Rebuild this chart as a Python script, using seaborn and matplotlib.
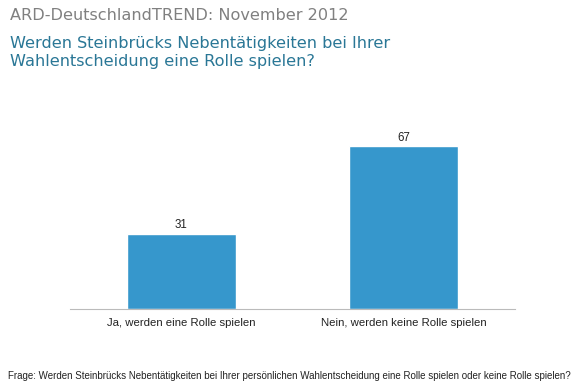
import matplotlib
matplotlib.use("Agg")
import matplotlib.pyplot as plt
import seaborn as sns
import pandas as pd

# Data
categories = ["Ja, werden eine Rolle spielen", "Nein, werden keine Rolle spielen"]
values = [31, 67]

df = pd.DataFrame({"antwort": categories, "prozent": values})

sns.set_style("white")
plt.rcParams["font.family"] = ["Liberation Sans", "DejaVu Sans"]

fig = plt.figure(figsize=(5.8, 3.86), dpi=100)
ax = fig.add_axes([0.1207, 0.1995, 0.767, 0.4895])

sns.barplot(data=df, x="antwort", y="prozent", color="#3697cc", width=0.49,
            saturation=1, ax=ax)
ax.set_xlim(-0.5, 1.5)
ax.set_ylim(0, 77.8)

for i, v in enumerate(values):
    ax.text(i, v + 1.0, str(v), ha="center", va="bottom", fontsize=8.3, color="#222222")

ax.set_xlabel("")
ax.set_ylabel("")
ax.set_yticks([])
ax.tick_params(axis="x", length=0, pad=6.5, labelsize=8.2, labelcolor="#222222")
for s in ["top", "right", "left"]:
    ax.spines[s].set_visible(False)
ax.spines["bottom"].set_color("#bbbbbb")
ax.spines["bottom"].set_linewidth(0.8)

# Titles
fig.text(10 / 580, 1 - 16 / 386, "ARD-DeutschlandTREND: November 2012",
         fontsize=11.6, color="#808080", family="DejaVu Sans", va="center", ha="left")
fig.text(10 / 580, 1 - 52.5 / 386,
         "Werden Steinbrücks Nebentätigkeiten bei Ihrer\nWahlentscheidung eine Rolle spielen?",
         fontsize=11.6, color="#2a7796", family="DejaVu Sans", va="center", ha="left",
         linespacing=1.28)

fig.text(8 / 580, 1 - 376 / 386,
         "Frage: Werden Steinbrücks Nebentätigkeiten bei Ihrer persönlichen Wahlentscheidung eine Rolle spielen oder keine Rolle spielen?",
         fontsize=7.05, color="#222222", va="center", ha="left")

fig.savefig("out.png", dpi=100)
